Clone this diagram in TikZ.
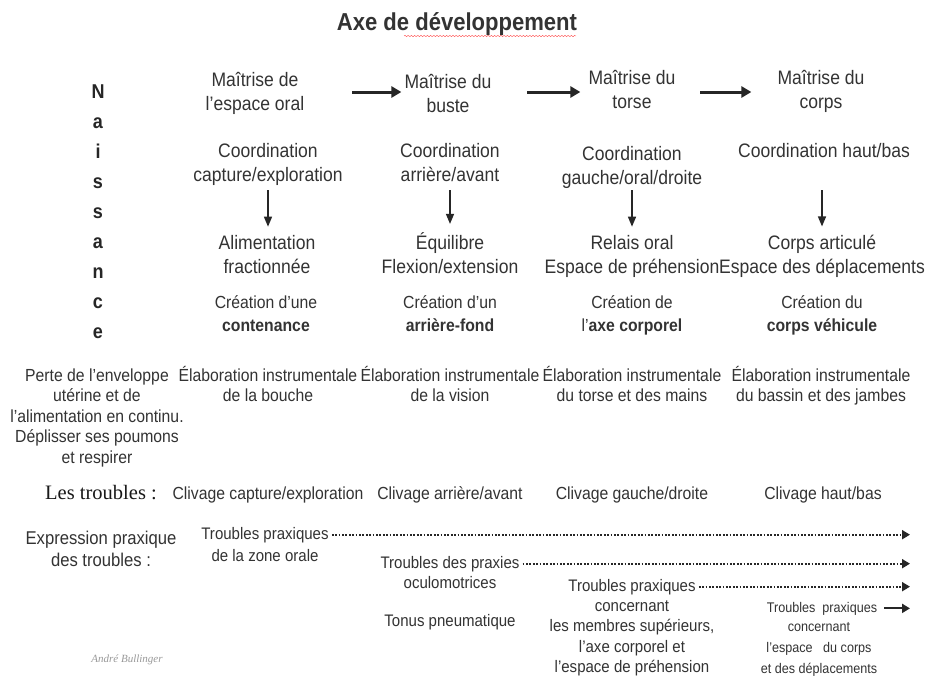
\documentclass[tikz,border=0pt]{standalone}
\usepackage{fontspec}
\setmainfont{Liberation Sans}[FakeStretch=0.9]
\newfontfamily\serifnote{Liberation Serif}
\usepackage{tikz}
\usetikzlibrary{arrows.meta}
\usetikzlibrary{positioning}
\usetikzlibrary{decorations.pathmorphing}
\tikzset{basic text/.style={inner sep=0pt,align=center,text=black!80,anchor=base}}
\tikzset{big text/.style={basic text,font=\fontsize{19.5}{24}\selectfont}}
\tikzset{mid text/.style={basic text,font=\fontsize{17.5}{23}\selectfont}}
\tikzset{low text/.style={basic text,font=\fontsize{17.5}{20.5}\selectfont}}
\tikzset{edge/.style={draw,black!85}}

\begin{document}
\begin{tikzpicture}
    [
      x=1pt,y=-1pt,
      big arrow/.style={edge,line width=3pt,-{Triangle[length=10pt,width=11pt]}},
      down arrow/.style={edge,line width=1.4pt,-{Triangle[length=10pt,width=8pt]},shorten >=8pt},
      dot arrow/.style={edge,line width=2pt,dash pattern=on 1.8pt off 1.6pt,
                        -{Triangle[length=8pt,width=9pt]},shorten <=3pt},
      trouble text/.style={basic text,font=\fontsize{16.7}{22}\selectfont},
    ]
    \useasboundingbox [fill=white] (0,0) rectangle (927,678);

    % title (base of a node = baseline of its last line)
    \node [basic text,font=\bfseries\fontsize{24.5}{28}\selectfont] (title) at (457,30) {Axe de développement};
    \draw [red!70,decorate,decoration={snake,amplitude=0.7pt,segment length=3.2pt}] (404,36) -- (576,36);

    % naissance
    \foreach \l [count=\i] in {N,a,i,s,s,a,n,c,e}
    {
    \node [basic text,font=\bfseries\fontsize{20}{22}\selectfont,text=black!85] (N\i) at (98,{68+30.1*\i}) {\l};
    }

    % maitrise
    \node [big text] (m1) at (255,110) {Maîtrise de\\l'espace oral};
    \node [big text] (m2) at (448,112) {Maîtrise du\\buste};
    \node [big text] (m3) at (632,108) {Maîtrise du\\torse};
    \node [big text] (m4) at (821,108) {Maîtrise du\\corps};

    \coordinate (a1) at (352,92);
    \coordinate (a2) at (527,92);
    \coordinate (a3) at (700,92);
    \draw [big arrow,shorten >=3pt] (a1) -- (m2.west |- a1);
    \draw [big arrow,shorten >=8pt] (a2) -- (m3.west |- a2);
    \draw [big arrow,shorten >=26pt] (a3) -- (m4.west |- a3);

    % coordination
    \node [big text] (c1) at (268,181) {Coordination\\capture/exploration};
    \node [big text] (c2) at (450,181) {Coordination\\arrière/avant};
    \node [big text] (c3) at (632,184) {Coordination\\gauche/oral/droite};
    \node [big text] (c4) at (824,157) {Coordination haut/bas};

    % results
    \node [big text] (r1) at (267,273) {Alimentation\\fractionnée};
    \node [big text] (r2) at (450,273) {Équilibre\\Flexion/extension};
    \node [big text] (r3) at (632,273) {Relais oral\\Espace de préhension};
    \node [big text] (r4) at (822,273) {Corps articulé\\Espace des déplacements};

    \foreach \i/\x in {1/268,2/450,3/632,4/822}
    {
    \coordinate (d\i) at (\x,190);
    \draw [down arrow] (d\i) -- (d\i |- r\i.north);
    }

    % creation
    \node [mid text] (k1) at (266,331) {Création d'une\\\textbf{contenance}};
    \node [mid text] (k2) at (450,331) {Création d'un\\\textbf{arrière-fond}};
    \node [mid text] (k3) at (632,331) {Création de\\l'\textbf{axe corporel}};
    \node [mid text] (k4) at (822,331) {Création du\\\textbf{corps véhicule}};

    % elaboration
    \node [low text] (p0) at (97,463) {Perte de l'enveloppe\\utérine et de\\l'alimentation en continu.\\Déplisser ses poumons\\et respirer};
    \node [low text] (e1) at (268,401.5) {Élaboration instrumentale\\de la bouche};
    \node [low text] (e2) at (450,401.5) {Élaboration instrumentale\\de la vision};
    \node [low text] (e3) at (632,401.5) {Élaboration instrumentale\\du torse et des mains};
    \node [low text] (e4) at (821,401.5) {Élaboration instrumentale\\du bassin et des jambes};

    % troubles
    \node [basic text,font=\serifnote\fontsize{20.5}{24}\selectfont,text=black!90] (trb) at (101,499) {Les troubles :};
    \node [low text] (v1) at (268,499) {Clivage capture/exploration};
    \node [low text] (v2) at (450,499) {Clivage arrière/avant};
    \node [low text] (v3) at (632,499) {Clivage gauche/droite};
    \node [low text] (v4) at (823,499) {Clivage haut/bas};

    % expression praxique
    \node [basic text,font=\fontsize{18.5}{22}\selectfont] (expr) at (101,566) {Expression praxique\\des troubles :};
    \node [trouble text] (t1) at (265,539) {Troubles praxiques};
    \node [trouble text] (t1b) at (265,561) {de la zone orale};
    \node [trouble text] (t2) at (450,568) {Troubles des praxies};
    \node [trouble text] (t2b) at (450,588) {oculomotrices};
    \node [trouble text] (t3) at (632,591) {Troubles praxiques};
    \node [basic text,font=\fontsize{16.7}{20.6}\selectfont] (t3b) at (632,672.8) {concernant\\les membres supérieurs,\\l'axe corporel et\\l'espace de préhension};
    \node [trouble text] (ton) at (450,626) {Tonus pneumatique};
    \node [basic text,font=\fontsize{14}{21}\selectfont] (t4) at (822,612) {Troubles\ \ praxiques};
    \node [basic text,font=\fontsize{14}{21}\selectfont] (t4b) at (819,673) {concernant\\l'espace\ \ \ du corps\\et des déplacements};

    \coordinate (rim) at (910,0);
    \draw [dot arrow] (t1.east) -- (t1.east -| rim);
    \draw [dot arrow] (t2.east) -- (t2.east -| rim);
    \draw [dot arrow] (t3.east) -- (t3.east -| rim);
    \draw [edge,line width=2pt,-{Triangle[length=8pt,width=9pt]},shorten <=7pt] (t4.east) -- (t4.east -| rim);

    \node [basic text,font=\serifnote\itshape\fontsize{11}{12}\selectfont,text=black!40] (sig) at (127,662) {André Bullinger};
  \end{tikzpicture}
\end{document}
